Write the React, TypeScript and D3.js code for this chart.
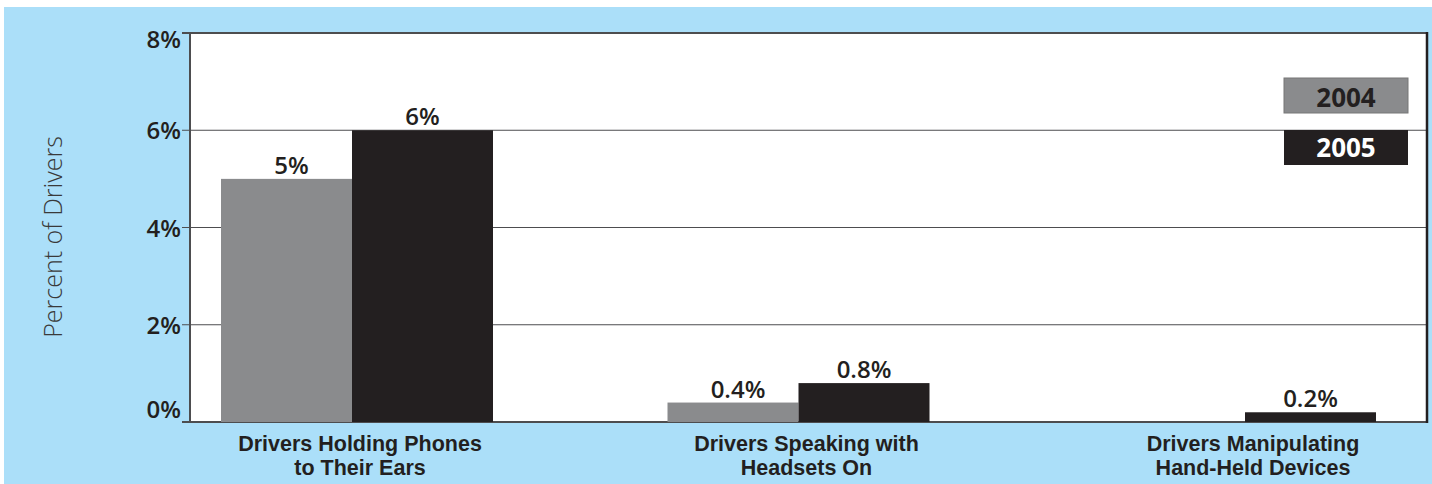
import React from "react";
import * as d3 from "d3";

const categories = [
  ["Drivers Holding Phones", "to Their Ears"],
  ["Drivers Speaking with", "Headsets On"],
  ["Drivers Manipulating", "Hand-Held Devices"],
];
const series2004 = [5, 0.4, 0];
const series2005 = [6, 0.8, 0.2];
const labels2004 = ["5%", "0.4%", ""];
const labels2005 = ["6%", "0.8%", "0.2%"];
const yTicks = [0, 2, 4, 6, 8];
const seriesNames = ["2004", "2005"];

const W = 1432;
const H = 484;
const BLUE = "#abdff9";
const GRAY = "#8a8b8d";
const DARK = "#231f20";
const FONT = "'Open Sans', sans-serif";
const CAT_FONT = "'Liberation Sans', Arial, sans-serif";

export default function App() {
  const left = 190;
  const right = 1427;
  const top = 33;
  const bottom = 422;
  const y = d3.scaleLinear().domain([0, 8]).range([bottom, top]);
  const x = d3
    .scalePoint<number>()
    .domain(categories.map((_, i) => i))
    .range([352, 1245]);
  const barW = 131;

  const tickDy = (t: number) => (t === 8 ? 15 : t === 0 ? -4 : 9);

  return (
    <div style={{ position: "absolute", left: 0, top: 0 }}>
      <svg width={W} height={H} style={{ display: "block" }}>
        <rect x={0} y={0} width={W} height={H} fill="#fff" />
        <rect x={4} y={7} width={W - 4} height={H - 7} fill={BLUE} />
        <rect x={left} y={top} width={right - left} height={bottom - top} fill="#fff" />
        {yTicks.map((t) => (
          <line
            key={t}
            x1={left - 8}
            x2={right}
            y1={y(t)}
            y2={y(t)}
            stroke="#4d4d4f"
            strokeWidth={t === 0 || t === 8 ? 2 : 1.2}
          />
        ))}
        {categories.map((_, i) => {
          const cx = x(i) as number;
          const bw2005 = i === 0 ? barW + 10 : barW;
          return (
            <g key={i}>
              {series2004[i] > 0 && (
                <rect
                  x={cx - barW}
                  y={y(series2004[i])}
                  width={barW}
                  height={bottom - y(series2004[i])}
                  fill={GRAY}
                />
              )}
              <rect
                x={cx}
                y={y(series2005[i])}
                width={bw2005}
                height={bottom - y(series2005[i])}
                fill={DARK}
              />
              {labels2004[i] && (
                <text
                  x={cx - barW / 2 + 5}
                  y={y(series2004[i]) - 5}
                  textAnchor="middle"
                  fontFamily={FONT}
                  fontWeight={600}
                  fontSize={24}
                  fill={DARK}
                >
                  {labels2004[i]}
                </text>
              )}
              <text
                x={cx + bw2005 / 2}
                y={y(series2005[i]) - 5}
                textAnchor="middle"
                fontFamily={FONT}
                fontWeight={600}
                fontSize={24}
                fill={DARK}
              >
                {labels2005[i]}
              </text>
              <text
                x={cx + 8}
                y={451}
                textAnchor="middle"
                fontFamily={CAT_FONT}
                fontWeight={700}
                fontSize={21.5}
                fill={DARK}
              >
                {categories[i].map((line, j) => (
                  <tspan key={j} x={cx + 8} dy={j === 0 ? 0 : 24}>
                    {line}
                  </tspan>
                ))}
              </text>
            </g>
          );
        })}
        <line x1={left} x2={left} y1={top - 1} y2={bottom + 1} stroke="#4d4d4f" strokeWidth={2} />
        <line x1={right} x2={right} y1={top - 1} y2={bottom + 1} stroke={DARK} strokeWidth={2.5} />
        {yTicks.map((t) => (
          <text
            key={t}
            x={left - 9}
            y={y(t) + tickDy(t)}
            textAnchor="end"
            fontFamily={FONT}
            fontWeight={600}
            fontSize={24}
            fill={DARK}
          >
            {t}%
          </text>
        ))}
        <text
          transform={`translate(62,237) rotate(-90)`}
          textAnchor="middle"
          fontFamily={FONT}
          fontWeight={300}
          fontSize={25}
          fill="#3a3a3a"
        >
          Percent of Drivers
        </text>
        {seriesNames.map((s, i) => (
          <g key={s} transform={`translate(1284,${78 + i * 52})`}>
            <rect
              width={124}
              height={35}
              fill={i === 0 ? GRAY : DARK}
              stroke={i === 0 ? "#777" : "none"}
            />
            <text
              x={62}
              y={i === 0 ? 29 : 27}
              textAnchor="middle"
              fontFamily={FONT}
              fontWeight={700}
              fontSize={26}
              fill={i === 0 ? DARK : "#fff"}
            >
              {s}
            </text>
          </g>
        ))}
      </svg>
    </div>
  );
}
